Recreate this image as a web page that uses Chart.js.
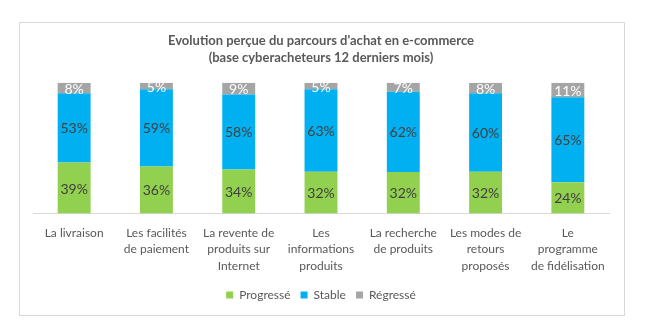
<!DOCTYPE html>
<html>
<head>
<meta charset="utf-8">
<script src="https://cdn.jsdelivr.net/npm/chart.js@4.4.1/dist/chart.umd.min.js"></script>
<style>
  body { margin: 0; background: #fff; }
  #frame {
    position: absolute; left: 19px; top: 22px;
    width: 604px; height: 292px;
    border: 1px solid #d9d9d9;
  }
</style>
</head>
<body>
<div id="frame"><canvas id="chart" width="604" height="292"></canvas></div>
<script>
const categories = [
    ['La livraison'],
    ['Les facilités', 'de paiement'],
    ['La revente de', 'produits sur', 'Internet'],
    ['Les', 'informations', 'produits'],
    ['La recherche', 'de produits'],
    ['Les modes de', 'retours', 'proposés'],
    ['Le', 'programme', 'de fidélisation']
];
const progresse = [39, 36, 34, 32, 32, 32, 24];
const stable = [53, 59, 58, 63, 62, 60, 65];
const regresse = [8, 5, 9, 5, 7, 8, 11];

// Excel draws this as 100% stacked, so scale each column to its total
const totals = progresse.map((v, i) => v + stable[i] + regresse[i]);
function share(arr) {
    return arr.map((v, i) => v / totals[i] * 100);
}

const barLabels = {
    id: 'barLabels',
    afterDatasetsDraw(chart) {
        const ctx = chart.ctx;
        const area = chart.chartArea;
        ctx.save();
        ctx.beginPath();
        ctx.rect(area.left, area.top, area.right - area.left, area.bottom - area.top);
        ctx.clip();
        ctx.font = '14px Lato';
        ctx.textAlign = 'center';
        ctx.textBaseline = 'middle';
        chart.data.datasets.forEach((ds, di) => {
            const meta = chart.getDatasetMeta(di);
            meta.data.forEach((bar, i) => {
                ctx.fillStyle = ds.labelColor;
                ctx.fillText(ds.raw[i] + '%', bar.x, (bar.y + bar.base) / 2 + 1);
            });
        });
        ctx.restore();
    }
};

const ctx = document.getElementById('chart').getContext('2d');
new Chart(ctx, {
    type: 'bar',
    data: {
        labels: categories,
        datasets: [
            {
                label: 'Progressé',
                data: share(progresse),
                raw: progresse,
                labelColor: '#404040',
                backgroundColor: '#92D050'
            },
            {
                label: 'Stable',
                data: share(stable),
                raw: stable,
                labelColor: '#404040',
                backgroundColor: '#00B0F0'
            },
            {
                label: 'Régressé',
                data: share(regresse),
                raw: regresse,
                labelColor: '#ffffff',
                backgroundColor: '#A5A5A5'
            }
        ]
    },
    options: {
        responsive: false,
        animation: false,
        devicePixelRatio: 1,
        barPercentage: 0.4,
        categoryPercentage: 1,
        layout: { padding: { left: 13, right: 15, top: 0, bottom: 4 } },
        plugins: {
            title: {
                display: true,
                text: ['Evolution perçue du parcours d\'achat en e-commerce', '(base cyberacheteurs 12 derniers mois)'],
                color: '#595959',
                font: { family: 'Lato', size: 13, weight: 'bold', lineHeight: 1.3 },
                padding: { top: 9, bottom: 17 }
            },
            legend: {
                position: 'bottom',
                labels: {
                    boxWidth: 7,
                    boxHeight: 7,
                    color: '#595959',
                    font: { family: 'Lato', size: 12 },
                    padding: 10
                }
            },
            tooltip: { enabled: false }
        },
        scales: {
            x: {
                stacked: true,
                grid: { display: false, drawTicks: false },
                border: { display: true, color: '#d9d9d9', width: 1 },
                ticks: {
                    color: '#595959',
                    font: { family: 'Lato', size: 12, lineHeight: 1.375 },
                    padding: 11,
                    maxRotation: 0,
                    autoSkip: false
                },
                // legend padding is wider than in Excel, take it back from the axis box
                afterFit: function(scale) {
                    scale.height -= 6;
                }
            },
            y: {
                stacked: true,
                display: false,
                min: 0,
                max: 100
            }
        }
    },
    plugins: [barLabels]
});
</script>
</body>
</html>
